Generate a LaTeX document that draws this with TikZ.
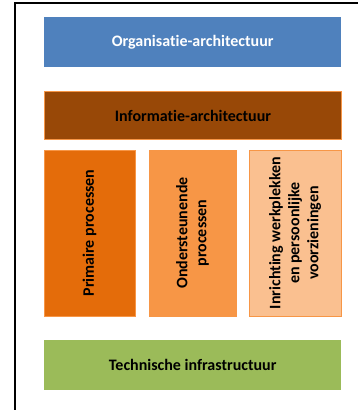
\documentclass[tikz,border=0pt]{standalone}
\usepackage{fontspec}
\setmainfont{Carlito}[Ligatures=NoCommon]

\definecolor{blauw}{HTML}{4F81BD}
\definecolor{bruin}{HTML}{984807}
\definecolor{oranje}{HTML}{F79646}
\definecolor{donkeroranje}{HTML}{E46C0A}
\definecolor{lichtoranje}{HTML}{FAC090}
\definecolor{groen}{HTML}{9BBB59}

\begin{document}
\begin{tikzpicture}[x=1pt,y=-1pt,
  laag/.style={anchor=north west,minimum width=297pt,minimum height=50pt,
    inner sep=0pt,font=\bfseries\fontsize{16}{19}\selectfont},
  kolom/.style={rotate=90,minimum width=166pt,inner sep=0pt,align=center,
    draw=oranje,line width=1pt,font=\bfseries\fontsize{16}{19}\selectfont}]
\useasboundingbox (0,0) rectangle (358,410);
% kader
\draw[line width=2pt] (15,410) -- (15,3) -- (358,3);
% lagen
\node[laag,fill=blauw,text=white](org) at (44,17){Organisatie-architectuur};
\node[laag,fill=bruin,draw=oranje,line width=1pt,minimum height=48pt](info) at (44,91){Informatie-architectuur};
\node[kolom,fill=donkeroranje,minimum height=91pt](prim) at (89.5,233){Primaire processen};
\node[kolom,fill=oranje,minimum height=87pt](onder) at (192.5,233){Ondersteunende\\processen};
\node[kolom,fill=lichtoranje,minimum height=92pt](inr) at (295,233){Inrichting werkplekken\\en persoonlijke\\voorzieningen};
\node[laag,fill=groen](tech) at (44,340){Technische infrastructuur};
\end{tikzpicture}
\end{document}
